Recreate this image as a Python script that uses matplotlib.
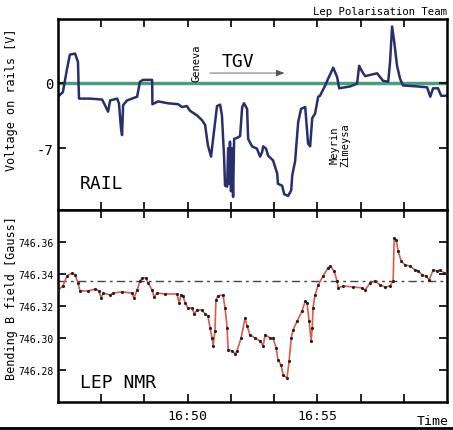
import matplotlib
matplotlib.use("Agg")
import matplotlib.pyplot as plt
from matplotlib.lines import Line2D
from matplotlib.patches import FancyArrowPatch
import numpy as np

plt.rcParams['font.family'] = ['DejaVu Sans Mono']

# time in minutes after 16:45
rail_t = [0.00, 0.19, 0.35, 0.46, 0.66, 0.77, 0.81, 1.23, 1.70, 1.81, 1.93, 2.01,
          2.28, 2.35, 2.43, 2.47, 2.51, 2.66, 3.05, 3.16, 3.28, 3.63, 3.64, 3.86,
          4.24, 4.63, 4.78, 4.97, 5.09, 5.36, 5.55, 5.67, 5.78, 5.90, 5.98, 6.13,
          6.25, 6.32, 6.40, 6.44, 6.52, 6.56, 6.59, 6.63, 6.67, 6.71, 6.75, 6.79,
          6.90, 7.02, 7.10, 7.17, 7.29, 7.33, 7.48, 7.67, 7.79, 7.87, 7.91, 8.02,
          8.10, 8.29, 8.45, 8.48, 8.64, 8.72, 8.87, 8.99, 9.03, 9.14, 9.26, 9.37,
          9.53, 9.64, 9.72, 9.80, 9.91, 10.03, 10.10, 10.30, 10.41, 10.61, 10.76,
          10.84, 11.26, 11.53, 11.61, 11.72, 11.84, 12.30, 12.53, 12.73, 12.80,
          12.88, 12.96, 13.07, 13.19, 13.30, 13.85, 14.23, 14.35, 14.46, 14.65,
          14.77, 15.00]
rail_v = [-1.5, -1.0, 1.5, 3.0, 3.1, 2.2, -1.7, -1.7, -1.8, -2.4, -3.1, -1.9,
          -1.7, -2.2, -4.9, -5.6, -2.4, -1.9, -1.5, 0.1, 0.3, 0.3, -2.3, -2.0,
          -2.2, -2.3, -2.6, -2.5, -3.0, -3.5, -4.0, -4.5, -6.7, -7.9, -6.0, -2.5,
          -2.35, -3.5, -7.8, -11.0, -11.1, -7.0, -10.8, -6.3, -11.6, -7.0, -12.2, -6.0,
          -5.9, -5.7, -2.6, -2.2, -2.8, -6.0, -6.8, -7.05, -7.9, -7.4, -6.8, -7.05,
          -7.8, -8.3, -9.7, -10.8, -11.0, -11.9, -12.1, -11.5, -9.9, -8.4, -4.2, -2.8,
          -2.6, -6.5, -6.8, -3.8, -3.3, -1.5, -1.4, -0.3, 0.4, 1.6, 0.6,
          -0.6, -0.4, -0.1, 1.8, 1.2, 0.7, 1.0, 0.2, 0.1, 2.2,
          6.0, 4.4, 1.8, 0.4, -0.3, -0.4, -0.5, -1.5, -0.6, -0.6,
          -1.4, -1.4]

nmr_t = [0.00, 0.19, 0.35, 0.54, 0.66, 0.77, 0.85, 1.16, 1.43, 1.58, 1.66, 1.74,
         2.01, 2.12, 2.47, 2.85, 2.93, 3.05, 3.16, 3.24, 3.39, 3.47, 3.63, 3.70,
         3.82, 4.13, 4.59, 4.67, 4.74, 4.82, 4.90, 5.01, 5.17, 5.25, 5.36, 5.55,
         5.67, 5.78, 5.86, 5.94, 5.98, 6.05, 6.09, 6.17, 6.36, 6.44, 6.52, 6.56,
         6.71, 6.83, 6.90, 7.06, 7.21, 7.29, 7.40, 7.60, 7.79, 7.91, 7.98, 8.18,
         8.29, 8.41, 8.48, 8.60, 8.68, 8.83, 8.91, 8.99, 9.06, 9.22, 9.41, 9.53,
         9.60, 9.68, 9.76, 9.80, 9.83, 9.91, 10.03, 10.22, 10.41, 10.49, 10.64,
         10.76, 10.80, 10.99, 11.38, 11.72, 11.84, 12.03, 12.23, 12.42, 12.61,
         12.80, 12.92, 12.96, 13.04, 13.11, 13.23, 13.38, 13.57, 13.77, 13.88,
         14.04, 14.19, 14.31, 14.46, 14.62, 14.73, 14.89, 15.00]
nmr_b = [746.3300, 746.3325, 746.3388, 746.3406, 746.3394, 746.3344, 746.3294,
         746.3294, 746.3306, 746.3294, 746.3250, 746.3281, 746.3269, 746.3281,
         746.3288, 746.3281, 746.3250, 746.3300, 746.3356, 746.3375, 746.3375,
         746.3344, 746.3300, 746.3256, 746.3281, 746.3275, 746.3275, 746.3219,
         746.3269, 746.3263, 746.3219, 746.3188, 746.3188, 746.3150, 746.3175,
         746.3175, 746.3150, 746.3138, 746.3063, 746.3000, 746.2950, 746.3044,
         746.3238, 746.3263, 746.3269, 746.3188, 746.3063, 746.2925, 746.2919,
         746.2900, 746.2919, 746.3000, 746.3125, 746.3075, 746.3019, 746.3000,
         746.2981, 746.2950, 746.3019, 746.3000, 746.3000, 746.2938, 746.2863,
         746.2831, 746.2769, 746.2750, 746.2856, 746.3000, 746.3050, 746.3106,
         746.3169, 746.3231, 746.3219, 746.3106, 746.2981, 746.3063, 746.3188,
         746.3269, 746.3331, 746.3388, 746.3438, 746.3450, 746.3419, 746.3356,
         746.3313, 746.3325, 746.3319, 746.3313, 746.3300, 746.3344, 746.3356,
         746.3331, 746.3319, 746.3325, 746.3356, 746.3625, 746.3613, 746.3544,
         746.3481, 746.3456, 746.3450, 746.3425, 746.3419, 746.3394, 746.3388,
         746.3363, 746.3425, 746.3419, 746.3425, 746.3406, 746.3400]

nmr_ref = 746.3356
rail_ticks = [0, -7]
nmr_ticks = [746.28, 746.30, 746.32, 746.34, 746.36]
nmr_ticklabels = ['746.28', '746.30', '746.32', '746.34', '746.36']
time_ticks = [5 / 3 * k for k in range(1, 9)]
time_labels = {5: '16:50', 10: '16:55'}

fig = plt.figure(figsize=(4.53, 4.31), dpi=100)
ax1 = fig.add_axes([0.128, 0.5104, 0.859, 0.4432])
ax2 = fig.add_axes([0.128, 0.065, 0.859, 0.4454])

for ax in (ax1, ax2):
    for s in ax.spines.values():
        s.set_linewidth(1.8)
    ax.set_xlim(0, 15)
    ax.set_xticks(time_ticks)
    ax.tick_params(direction='in', length=6, width=1.2, top=True, right=True, pad=3)

# rail voltage
ax1.axhline(0, color='#4a9e7e', lw=2.5, zorder=1)
ax1.plot(rail_t, rail_v, color='#27306b', lw=1.8, zorder=2)
ax1.set_ylim(-13.6, 6.8)
ax1.set_yticks(rail_ticks)
ax1.set_yticklabels(['0', '-7'], fontsize=10)
ax1.set_xticklabels([])
ax1.text(0.057, 0.14, 'RAIL', transform=ax1.transAxes, fontsize=13, va='center')
ax1.text(0.42, 0.78, 'TGV', transform=ax1.transAxes, fontsize=13, va='center')
ax1.add_patch(FancyArrowPatch((0.383, 0.717), (0.589, 0.717), transform=ax1.transAxes,
                              arrowstyle='-|>,head_length=5,head_width=2',
                              color='#555555', lw=0.6, mutation_scale=1))
ax1.text(0.357, 0.775, 'Geneva', transform=ax1.transAxes, fontsize=7.5,
         rotation=90, ha='center', va='center')
ax1.text(0.725, 0.346, 'Meyrin\nZimeysa', transform=ax1.transAxes, fontsize=7.5,
         rotation=90, ha='center', va='center', linespacing=1.0)

# NMR field
ax2.axhline(nmr_ref, color='#444444', lw=1, ls=(0, (6, 3, 2, 3)), zorder=1)
ax2.plot(nmr_t, nmr_b, color='#e05a4a', lw=1.2, zorder=2)
ax2.plot(nmr_t, nmr_b, ls='none', marker='.', ms=2.5, color='#222222', zorder=3)
ax2.set_ylim(746.26, 746.38)
ax2.set_yticks(nmr_ticks)
ax2.set_yticklabels(nmr_ticklabels, fontsize=7)
ax2.set_xticklabels([time_labels.get(round(t), '') if abs(t - round(t)) < 1e-6 else ''
                     for t in time_ticks], fontsize=9.5)
ax2.tick_params(axis='x', pad=5)
ax2.text(0.057, 0.104, 'LEP NMR', transform=ax2.transAxes, fontsize=13, va='center')

fig.text(12 / 453, 1 - 100 / 431, 'Voltage on rails [V]', rotation=90,
         ha='center', va='center', fontsize=8.5)
fig.text(12 / 453, 1 - 298 / 431, 'Bending B field [Gauss]', rotation=90,
         ha='center', va='center', fontsize=8.5)
fig.text(447 / 453, 1 - 12 / 431, 'Lep Polarisation Team', ha='right', va='center',
         fontsize=7.7)
fig.text(433 / 453, 1 - 422 / 431, 'Time', ha='center', va='center', fontsize=9.5)
fig.add_artist(Line2D([0, 1], [0.004, 0.004], transform=fig.transFigure,
                      color='k', lw=2))

fig.savefig('out.png', dpi=100)
